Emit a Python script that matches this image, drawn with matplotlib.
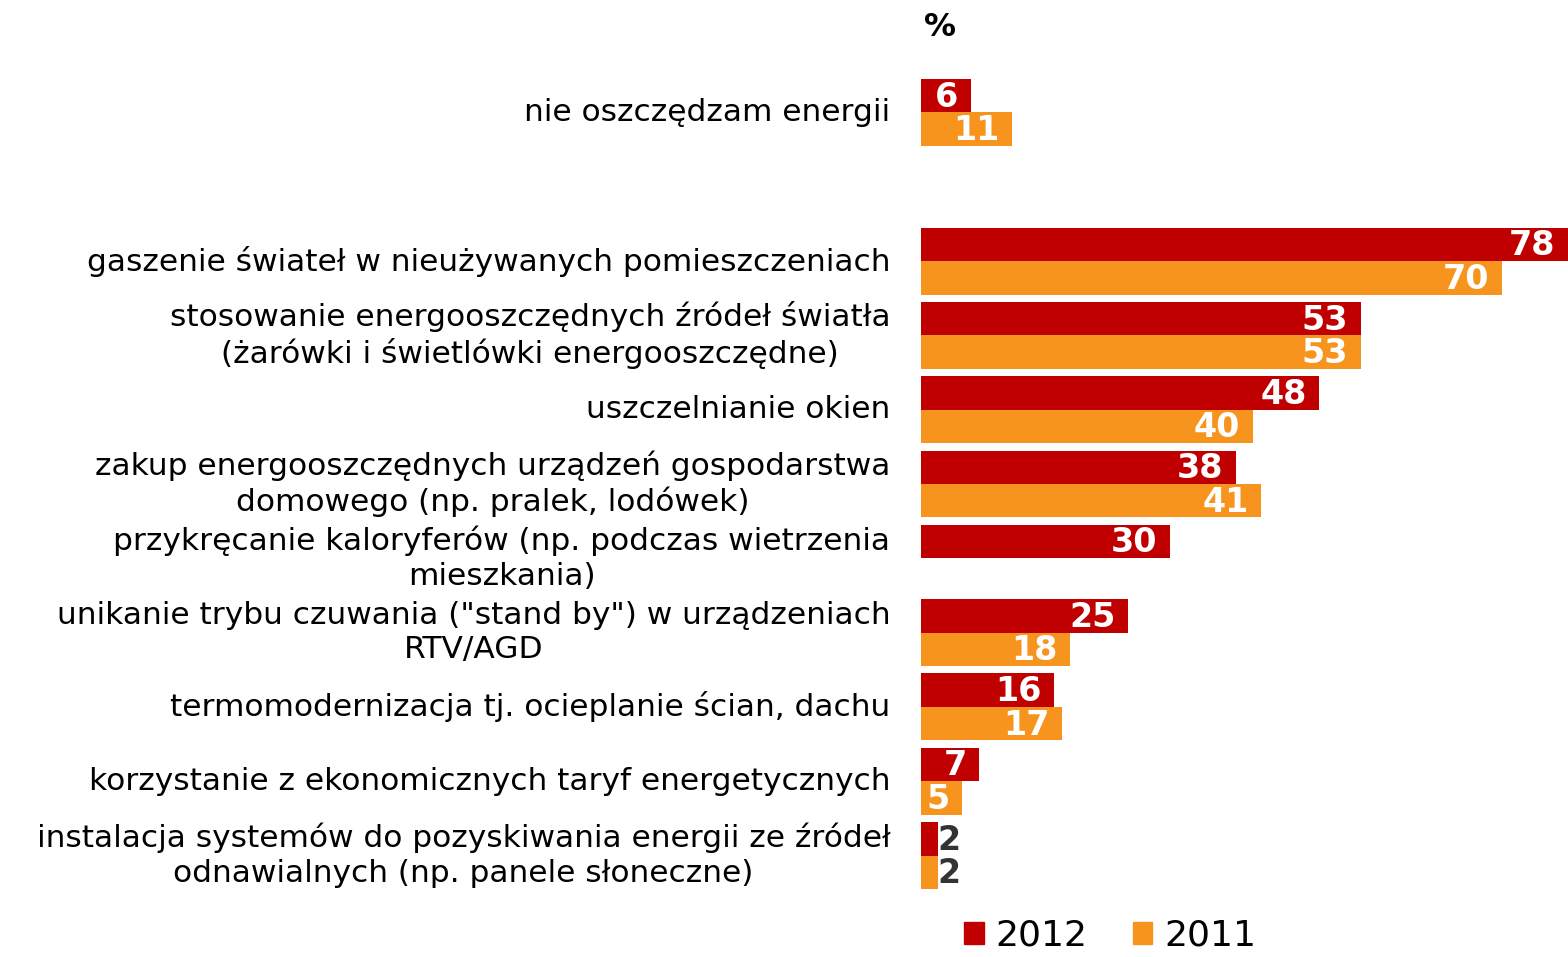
import matplotlib
matplotlib.use("Agg")
import matplotlib.pyplot as plt
from matplotlib.patches import Patch
import numpy as np

categories = [
    "nie oszczędzam energii",
    "gaszenie świateł w nieużywanych pomieszczeniach",
    "stosowanie energooszczędnych źródeł światła\n(żarówki i świetlówki energooszczędne)",
    "uszczelnianie okien",
    "zakup energooszczędnych urządzeń gospodarstwa\ndomowego (np. pralek, lodówek)",
    "przykręcanie kaloryferów (np. podczas wietrzenia\nmieszkania)",
    "unikanie trybu czuwania (\"stand by\") w urządzeniach\nRTV/AGD",
    "termomodernizacja tj. ocieplanie ścian, dachu",
    "korzystanie z ekonomicznych taryf energetycznych",
    "instalacja systemów do pozyskiwania energii ze źródeł\nodnawialnych (np. panele słoneczne)",
]
v2012 = [6, 78, 53, 48, 38, 30, 25, 16, 7, 2]
v2011 = [11, 70, 53, 40, 41, np.nan, 18, 17, 5, 2]
series_names = ["2012", "2011"]

c2012 = "#C00000"
c2011 = "#F7941D"

W, H = 1568, 957
fig = plt.figure(figsize=(W / 100, H / 100), dpi=100)

top_px, bot_px = 60, 900
ax = fig.add_axes([921 / W, 1 - bot_px / H, (W - 921) / W, (bot_px - top_px) / H])

pitch = 74.3
c0 = 112.5
ax.set_ylim((bot_px - c0) / pitch, (top_px - c0) / pitch)
ax.set_xlim(0, 78)

ypos = np.array([0] + list(range(2, 2 + len(categories) - 1)), dtype=float)
bh = 0.45

ax.barh(ypos - bh / 2, v2012, height=bh, color=c2012, linewidth=0)
ax.barh(ypos + bh / 2, v2011, height=bh, color=c2011, linewidth=0)


def label(vals, offs):
    for y, v in zip(ypos, vals):
        if v is None or np.isnan(v):
            continue
        if v >= 4:
            ax.annotate(f"{int(v)}", xy=(v, y + offs), xytext=(-9, -1),
                        textcoords="offset points", ha="right", va="center",
                        color="white", fontsize=24, fontweight="bold")
        else:
            ax.annotate(f"{int(v)}", xy=(v, y + offs), xytext=(0, -1),
                        textcoords="offset points", ha="left", va="center",
                        color="#333333", fontsize=24, fontweight="bold")


label(v2012, -bh / 2)
label(v2011, bh / 2)

ax.set_yticks(ypos)
ax.set_yticklabels(categories, fontsize=22.5, ha="right", va="center",
                   multialignment="center", linespacing=1.24)
ax.tick_params(axis="y", length=0, pad=22)
ax.set_xticks([])
for s in ax.spines.values():
    s.set_visible(False)

fig.text(940 / W, 1 - 28 / H, "%", fontsize=23, fontweight="bold",
         ha="center", va="center")

handles = [Patch(color=c2012), Patch(color=c2011)]
fig.legend(handles, series_names, loc="center", bbox_to_anchor=(1110 / W, 1 - 936 / H),
           ncol=2, frameon=False, fontsize=26, handlelength=0.55, handleheight=0.55,
           handletextpad=0.33, columnspacing=1.25, borderpad=0)

fig.savefig("out.png", dpi=100)
